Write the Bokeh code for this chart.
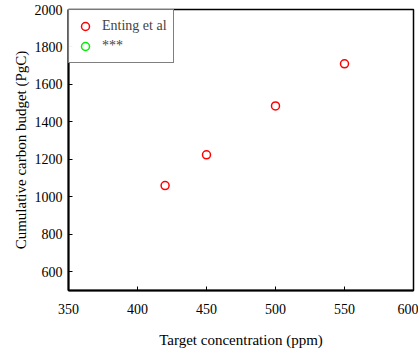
from bokeh.plotting import figure
from bokeh.models import FixedTicker, Range1d, Legend, LegendItem
from bokeh.embed import file_html
from bokeh.resources import INLINE

conc = [420, 450, 500, 550]
budget = [1060, 1224, 1485, 1710]
other_conc = [float("nan")]
other_budget = [float("nan")]
x_ticks = [350, 400, 450, 500, 550, 600]
y_ticks = [600, 800, 1000, 1200, 1400, 1600, 1800, 2000]

FONT = "Liberation Serif"

p = figure(frame_width=345, frame_height=281, output_backend="svg", toolbar_location=None,
           x_range=Range1d(350, 600), y_range=Range1d(500, 2000),
           min_border_left=68, min_border_right=5, min_border_top=9, min_border_bottom=55)

r1 = p.scatter(conc, budget, marker="circle", size=8, fill_color=None,
               line_color="#ff0000", line_width=1.5)
r2 = p.scatter(other_conc, other_budget, marker="circle", size=8, fill_color=None,
               line_color="#00ee00", line_width=1.5)

p.grid.visible = False
p.outline_line_color = "black"
p.outline_line_width = 1.5
p.background_fill_color = "white"
p.border_fill_color = "white"

for ax in (p.xaxis[0], p.yaxis[0]):
    ax.major_tick_in = 4
    ax.major_tick_out = 0
    ax.minor_tick_line_color = None
    ax.axis_line_width = 2
    ax.axis_line_color = "black"
    ax.major_tick_line_color = "black"
    ax.major_label_text_font = FONT
    ax.major_label_text_font_size = "14px"
    ax.major_label_text_color = "black"
    ax.axis_label_text_font = FONT
    ax.axis_label_text_font_size = "15px"
    ax.axis_label_text_font_style = "normal"
    ax.axis_label_text_color = "black"

p.xaxis.ticker = FixedTicker(ticks=x_ticks)
p.yaxis.ticker = FixedTicker(ticks=y_ticks)
p.xaxis.axis_label = "Target concentration (ppm)"
p.yaxis.axis_label = "Cumulative carbon budget (PgC)"
p.xaxis.major_label_standoff = 13
p.xaxis.axis_label_standoff = 15
p.yaxis.major_label_standoff = 6
p.yaxis.axis_label_standoff = 3

legend = Legend(items=[LegendItem(label="Enting et al", renderers=[r1]),
                       LegendItem(label="***", renderers=[r2])],
                location="top_left", margin=0, border_line_color="black",
                border_line_width=1.5, label_text_font=FONT,
                label_text_font_size="14px", padding=6, spacing=0,
                glyph_width=20, glyph_height=20, label_height=20,
                label_standoff=7)
p.add_layout(legend)

open("out.html", "w").write(file_html(p, INLINE))
